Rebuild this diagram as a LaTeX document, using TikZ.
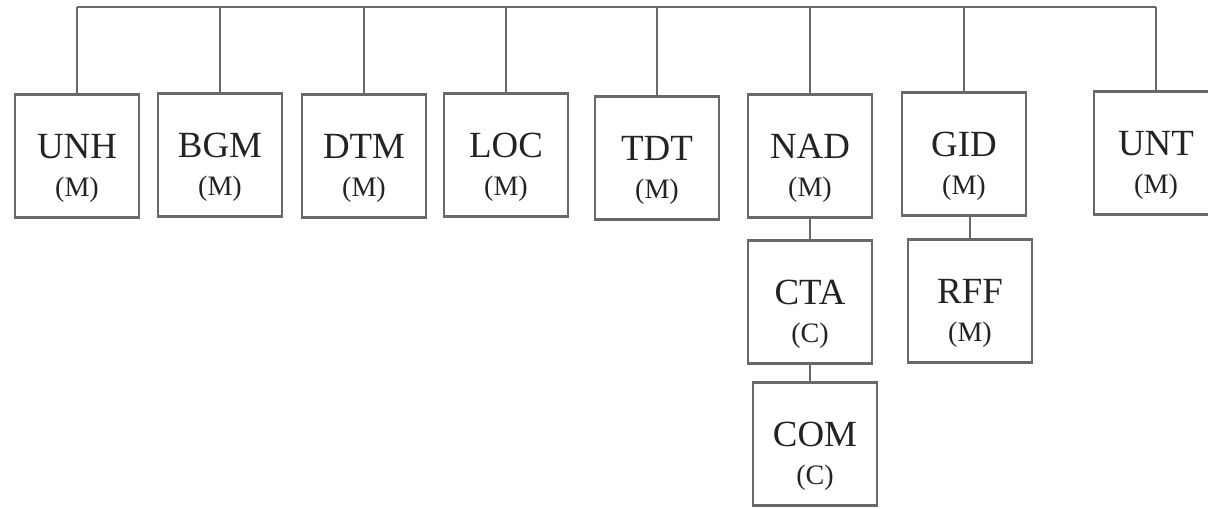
\documentclass[tikz,border=0pt]{standalone}
\usepackage{fontspec}
\setmainfont{Liberation Serif}
\usetikzlibrary{positioning}
\definecolor{linegray}{RGB}{105,105,105}
\definecolor{textgray}{RGB}{35,35,35}
\newcommand*{\modnode}[4]{%
  \node [ modbox ] (#1) at (#2) {%
    {\fontsize{21}{23}\selectfont\rule{0pt}{28pt}#3}\\[10pt]
    {\fontsize{16}{18}\selectfont (#4)}%
  };
}

\begin{document}
\begin{tikzpicture}[x=0.02cm, y=-0.02cm,
    modbox/.style = {draw=linegray, line width=1.3pt, fill=white,
                     minimum width=2.48cm, minimum height=2.46cm,
                     inner sep=0pt, align=center, text=textgray},
    link/.style = {draw=linegray, line width=1.3pt}]
		\clip (0,0) rectangle (1208,508);
		% first level
		\modnode{unh}{77,156}{UNH}{M}
		\modnode{bgm}{220,155}{BGM}{M}
		\modnode{dtm}{364,156}{DTM}{M}
		\modnode{loc}{506,155}{LOC}{M}
		\modnode{tdt}{657,158}{TDT}{M}
		\modnode{nad}{810,156}{NAD}{M}
		\modnode{gid}{964,154}{GID}{M}
		\modnode{unt}{1156,153}{UNT}{M}
		% second and third level
		\modnode{cta}{810,302}{CTA}{C}
		\modnode{rff}{970,301}{RFF}{M}
		\modnode{com}{815,444}{COM}{C}
		% bus
		\coordinate (bus) at (0,7);
		\draw[link] (unh.north |- bus) -- (unt.north |- bus);
		\foreach \n in {unh,bgm,dtm,loc,tdt,nad,gid,unt}
			\draw[link] (\n.north) -- (\n.north |- bus);
		\draw[link] (nad.south) -- (cta.north);
		\draw[link] (cta.south) -- (cta.south |- com.north);
		\draw[link] (rff.north |- gid.south) -- (rff.north);
\end{tikzpicture}
\end{document}
